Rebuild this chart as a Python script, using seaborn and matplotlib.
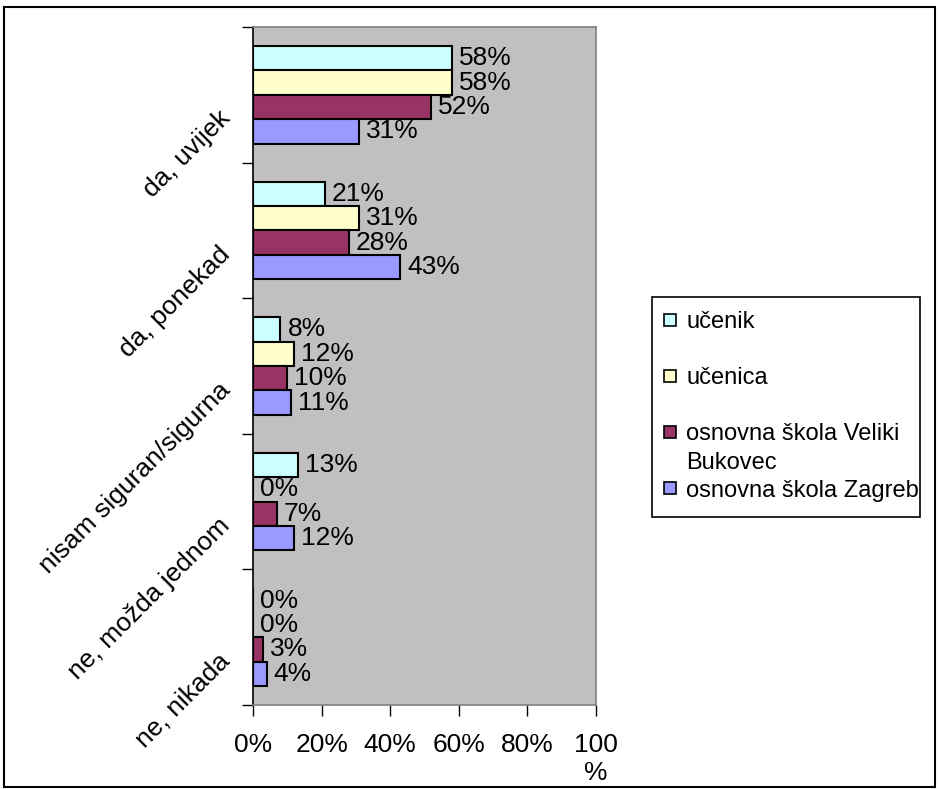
import pandas as pd
import matplotlib.pyplot as plt
import seaborn as sns
from matplotlib.patches import Rectangle
from matplotlib.transforms import ScaledTranslation

# ── Data ──────────────────────────────────────────────────────────────────────
kategorije = ['da, uvijek', 'da, ponekad', 'nisam siguran/sigurna',
              'ne, možda jednom', 'ne, nikada']
skupine = ['učenik', 'učenica', 'osnovna škola Veliki\nBukovec',
           'osnovna škola Zagreb']
ucenik = [58, 21, 8, 13, 0]
ucenica = [58, 31, 12, 0, 0]
veliki_bukovec = [52, 28, 10, 7, 3]
zagreb = [31, 43, 11, 12, 4]
x_ticks = [0, 20, 40, 60, 80, 100]
x_labels = ['0%', '20%', '40%', '60%', '80%', '100\n%']
boje = ['#CCFFFF', '#FFFFCC', '#993366', '#9999FF']

rows = []
for skupina, vals in zip(skupine, [ucenik, ucenica, veliki_bukovec, zagreb]):
    for kat, v in zip(kategorije, vals):
        rows.append({'odgovor': kat, 'postotak': v, 'skupina': skupina})
df = pd.DataFrame(rows)

# ── Style ─────────────────────────────────────────────────────────────────────
sns.set_style('white')
plt.rcParams['font.family'] = ['Liberation Sans', 'DejaVu Sans']
plt.rcParams.update({'text.color': 'black', 'xtick.color': 'black',
                     'ytick.color': 'black', 'axes.labelcolor': 'black'})
FS = 19

W, H = 938, 789
fig = plt.figure(figsize=(W / 100, H / 100), dpi=100)
ax = fig.add_axes([253 / W, 1 - 705 / H, (596 - 253) / W, (705 - 27) / H])

sns.barplot(data=df, y='odgovor', x='postotak', hue='skupina',
            order=kategorije, hue_order=skupine, palette=boje,
            orient='h', width=0.72, saturation=1, errorbar=None,
            edgecolor='black', linewidth=1.5, legend=False, ax=ax)

for c in ax.containers:
    ax.bar_label(c, fmt='{:.0f}%', padding=5, fontsize=FS, color='black')

ax.set_facecolor('#C0C0C0')
ax.set_xlabel('')
ax.set_ylabel('')
ax.set_xlim(0, 100)
ax.set_ylim(len(kategorije) - 0.5, -0.5)

ax.set_xticks(x_ticks, x_labels)
ax.tick_params(axis='x', length=8, width=1, pad=12, labelsize=FS,
               direction='out', bottom=True)

ax.set_yticks(range(len(kategorije)), kategorije)
ax.tick_params(axis='y', which='major', length=0, pad=12, labelsize=FS)
ax.set_yticks([i - 0.5 for i in range(len(kategorije) + 1)], minor=True)
ax.tick_params(axis='y', which='minor', length=8, width=1, left=True,
               direction='out')
shift = ScaledTranslation(-0.10, -0.20, fig.dpi_scale_trans)
for lbl in ax.get_yticklabels():
    lbl.set_rotation(45)
    lbl.set_ha('right')
    lbl.set_va('center')
    lbl.set_rotation_mode('anchor')
    lbl.set_transform(lbl.get_transform() + shift)

for s in ['top', 'right', 'bottom']:
    ax.spines[s].set_color('#808080')
    ax.spines[s].set_linewidth(1.2)
ax.spines['left'].set_color('black')
ax.spines['left'].set_linewidth(1.2)

# ── Legend (handle on first line of wrapped label) ───────────────────────────
fig.patches.append(Rectangle((652 / W, 1 - 517 / H), 268 / W, 220 / H,
                             transform=fig.transFigure, fill=False,
                             edgecolor='black', linewidth=1.2))
for i, (lab, col) in enumerate(zip(skupine, boje)):
    yc = 320 + i * 56
    fig.patches.append(Rectangle((664 / W, 1 - (yc + 6) / H), 12 / W, 12 / H,
                                 transform=fig.transFigure, facecolor=col,
                                 edgecolor='black', linewidth=1.2))
    for j, line in enumerate(lab.split('\n')):
        fig.text(686 / W, 1 - (yc + j * 29) / H, line, fontsize=17,
                 ha='left', va='center_baseline')

# outer frame
fig.patches.append(Rectangle((4 / W, 2 / H), 931 / W, 780 / H,
                             transform=fig.transFigure, fill=False,
                             edgecolor='black', linewidth=1.5))

plt.savefig('out.png', dpi=100)
